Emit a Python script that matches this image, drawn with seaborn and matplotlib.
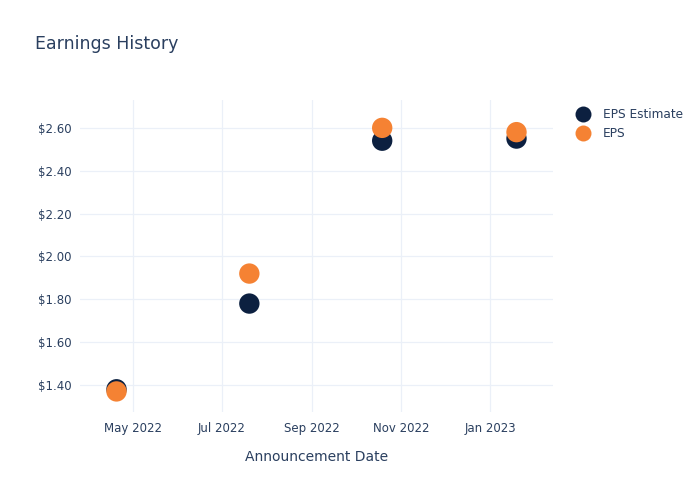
import matplotlib
matplotlib.use("Agg")
import matplotlib.pyplot as plt
import matplotlib.dates as mdates
import seaborn as sns
import pandas as pd
import numpy as np
from matplotlib.lines import Line2D

dates = ["2022-04-20", "2022-07-20", "2022-10-19", "2023-01-19"]
eps_estimate = [1.38, 1.78, 2.54, 2.55]
eps_actual = [1.37, 1.92, 2.60, 2.58]
series_names = ["EPS Estimate", "EPS"]
title = "Earnings History"
xlabel = "Announcement Date"

df = pd.DataFrame({
    "date": pd.to_datetime(dates * 2),
    "value": eps_estimate + eps_actual,
    "series": [series_names[0]] * len(dates) + [series_names[1]] * len(dates),
})

sns.set_theme(style="white")
plt.rcParams["font.family"] = ["DejaVu Sans"]
text_color = "#2a3f5f"
grid_color = "#ebf0f8"

fig = plt.figure(figsize=(7, 5), dpi=100)
ax = fig.add_axes([80 / 700, 88 / 500, (553 - 80) / 700, (412 - 100) / 500])

sns.scatterplot(data=df, x="date", y="value", hue="series",
                palette={"EPS Estimate": "#0c2040", "EPS": "#f58233"},
                s=215, linewidth=0, ax=ax, legend=False, zorder=3)

ax.set_xlim(pd.Timestamp("2022-03-26"), pd.Timestamp("2023-02-13"))
ax.set_ylim(1.274, 2.73)
ax.set_yticks([1.4, 1.6, 1.8, 2.0, 2.2, 2.4, 2.6])
ax.yaxis.set_major_formatter(matplotlib.ticker.FuncFormatter(lambda v, p: f"${v:.2f}"))
ax.xaxis.set_major_locator(mdates.MonthLocator(bymonth=[1, 3, 5, 7, 9, 11]))
ax.xaxis.set_major_formatter(mdates.DateFormatter("%b %Y"))

ax.grid(True, color=grid_color, linewidth=0.9)
ax.set_axisbelow(True)
for s in ax.spines.values():
    s.set_visible(False)
ax.tick_params(axis="both", length=0, labelsize=8.5, colors=text_color, pad=6)
ax.tick_params(axis="x", pad=7.5)
ax.set_xlabel(xlabel, fontsize=10, color=text_color, labelpad=10.5)
ax.set_ylabel("")

fig.text(35 / 700, 1 - 44 / 500, title, fontsize=12.5, color=text_color, va="center", ha="left")

handles = [Line2D([], [], marker="o", linestyle="", markersize=11.5, color=c, markeredgewidth=0)
           for c in ["#0c2040", "#f58233"]]
leg = fig.legend(handles, series_names, loc="upper left", bbox_to_anchor=(569 / 700, 1 - 103 / 500),
                 frameon=False, fontsize=8.7, handletextpad=0.9, labelspacing=0.5,
                 borderaxespad=0, handlelength=1.5)
for t in leg.get_texts():
    t.set_color(text_color)

fig.savefig("out.png", dpi=100)
